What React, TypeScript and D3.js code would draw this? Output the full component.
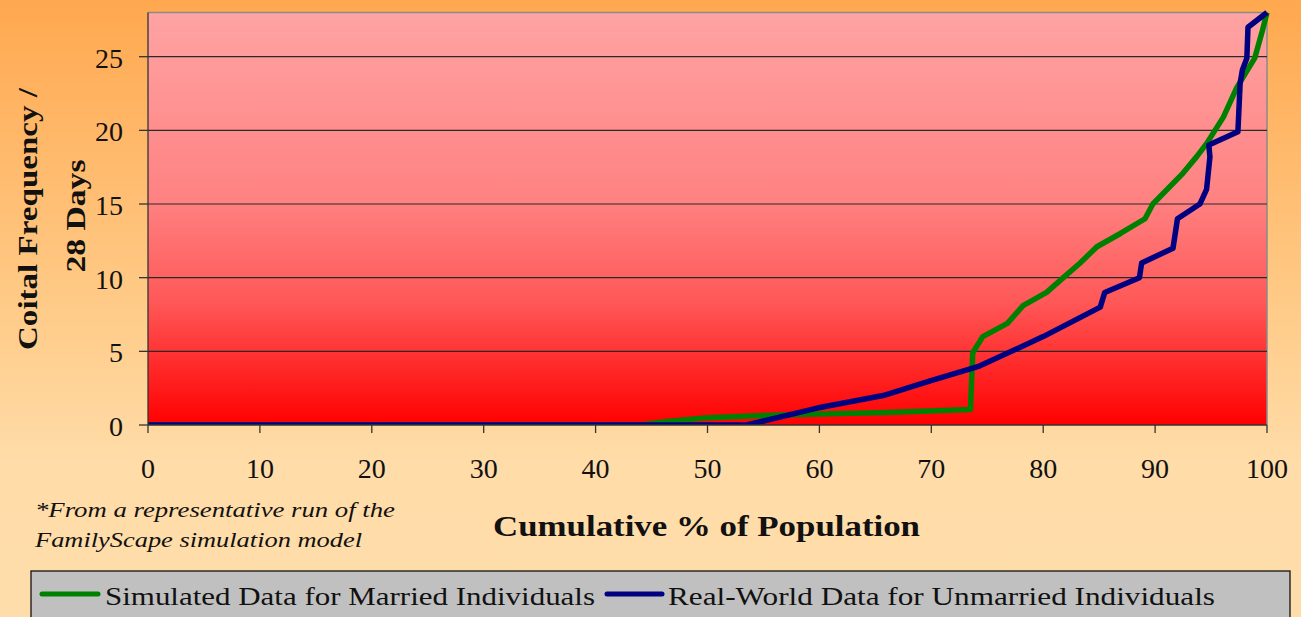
import React from "react";
import * as d3 from "d3";

// Cumulative distribution of coital frequency per 28 days
const xTicks = [0, 10, 20, 30, 40, 50, 60, 70, 80, 90, 100];
const yTicks = [0, 5, 10, 15, 20, 25];

const simulatedPct = [0, 44, 46, 50, 55, 60, 66, 73.5, 73.7, 74.6, 76.8, 78.2, 80.3, 81.8, 83.3, 84.8, 86.9, 89.1, 89.8, 92.5, 93.7, 94.6, 96.1, 97.3, 98.9, 99.6, 100];
const simulatedFreq = [0, 0, 0.2, 0.5, 0.65, 0.75, 0.85, 1.05, 4.9, 6.0, 6.9, 8.1, 9.0, 10.0, 11.0, 12.1, 13.0, 14.0, 15.0, 17.1, 18.2, 19.1, 20.9, 22.9, 24.9, 26.8, 28];

const realPct = [0, 53.5, 59.8, 65.7, 69.9, 74.3, 80.0, 85.1, 85.5, 88.6, 88.8, 91.6, 92.0, 94.0, 94.6, 94.9, 94.8, 97.4, 97.6, 97.8, 98.2, 98.3, 100];
const realFreq = [0, 0, 1.15, 2.0, 3.0, 4.0, 6.0, 8.0, 9.0, 10.0, 11.0, 12.0, 14.0, 15.0, 16.0, 18.2, 19.0, 19.9, 23.2, 24.1, 24.9, 27.0, 28];

const seriesNames = ["Simulated Data for Married Individuals", "Real-World Data for Unmarried Individuals"];
const seriesColors = ["#008000", "#000080"];

const W = 1301;
const H = 617;
const plot = { left: 148, right: 1267, top: 12.5, bottom: 425 };
const serif = "Liberation Serif, Tinos, Times New Roman, serif";

export default function App() {
  const x = d3.scaleLinear().domain([0, 100]).range([plot.left, plot.right]);
  const y = d3.scaleLinear().domain([0, 28]).range([plot.bottom, plot.top]);

  const line = d3
    .line<[number, number]>()
    .x((d) => x(d[0]))
    .y((d) => y(d[1]));

  const simulated = simulatedPct.map((p, i) => [p, simulatedFreq[i]] as [number, number]);
  const real = realPct.map((p, i) => [p, realFreq[i]] as [number, number]);

  const txt = { fontFamily: serif };

  return (
    <svg
      width={W}
      height={H}
      style={{ position: "absolute", left: 0, top: 0, display: "block", fontFamily: serif }}
    >
      <defs>
        <linearGradient id="bgGrad" x1="0" y1="0" x2="0" y2="1">
          <stop offset="0" stopColor="#FFA84F" />
          <stop offset="0.5" stopColor="#FFCB88" />
          <stop offset="0.75" stopColor="#FFDCA8" />
          <stop offset="1" stopColor="#FFDDAA" />
        </linearGradient>
        <linearGradient id="plotGrad" x1="0" y1="0" x2="0" y2="1">
          <stop offset="0" stopColor="#FFA3A3" />
          <stop offset="0.45" stopColor="#FF8282" />
          <stop offset="0.7" stopColor="#FF5858" />
          <stop offset="1" stopColor="#FF0000" />
        </linearGradient>
        <clipPath id="plotClip">
          <rect x={plot.left} y={0} width={W - plot.left} height={plot.bottom} />
        </clipPath>
      </defs>

      <rect x={0} y={0} width={W} height={H} fill="url(#bgGrad)" />

      {/* plot area */}
      <rect
        x={plot.left}
        y={plot.top}
        width={plot.right - plot.left}
        height={plot.bottom - plot.top}
        fill="url(#plotGrad)"
      />
      <path
        d={`M${plot.left},${plot.top}H${plot.right}V${plot.bottom}`}
        fill="none"
        stroke="#8a8a8a"
        strokeWidth={1.5}
      />

      {/* gridlines */}
      {yTicks
        .filter((t) => t > 0)
        .map((t) => (
          <line
            key={"g" + t}
            x1={plot.left}
            x2={plot.right}
            y1={y(t)}
            y2={y(t)}
            stroke="#2a2a2a"
            strokeWidth={1.2}
          />
        ))}

      {/* series */}
      <g clipPath="url(#plotClip)" fill="none" strokeWidth={5.5} strokeLinejoin="round">
        <path d={line(simulated) ?? ""} stroke={seriesColors[0]} />
        <path d={line(real) ?? ""} stroke={seriesColors[1]} />
      </g>

      {/* axes */}
      <line x1={plot.left} x2={plot.left} y1={plot.top} y2={plot.bottom} stroke="#333" strokeWidth={1.3} />
      <line x1={plot.left} x2={plot.right} y1={plot.bottom} y2={plot.bottom} stroke="#333" strokeWidth={1.3} />
      {yTicks.map((t) => (
        <g key={"y" + t}>
          <line x1={plot.left - 9} x2={plot.left} y1={y(t)} y2={y(t)} stroke="#333" strokeWidth={1.3} />
          <text x={123} y={y(t) + 11} textAnchor="end" fontSize={28} fill="#111" style={txt}>
            {t}
          </text>
        </g>
      ))}
      {xTicks.map((t) => (
        <g key={"x" + t}>
          <line x1={x(t)} x2={x(t)} y1={plot.bottom} y2={plot.bottom + 8} stroke="#333" strokeWidth={1.3} />
          <text x={x(t)} y={478} textAnchor="middle" fontSize={28} fill="#111" style={txt}>
            {t}
          </text>
        </g>
      ))}

      {/* axis titles */}
      <g transform="translate(37,219) rotate(-90)">
        <text textAnchor="middle" fontSize={28} fontWeight="bold" fill="#111" style={txt} textLength={262} lengthAdjust="spacingAndGlyphs">
          Coital Frequency /
        </text>
      </g>
      <g transform="translate(85,216) rotate(-90)">
        <text textAnchor="middle" fontSize={28} fontWeight="bold" fill="#111" style={txt} textLength={113} lengthAdjust="spacingAndGlyphs">
          28 Days
        </text>
      </g>
      <text x={706.5} y={536} textAnchor="middle" fontSize={30} fontWeight="bold" fill="#111" style={txt} textLength={427} lengthAdjust="spacingAndGlyphs">
        Cumulative % of Population
      </text>

      {/* footnote */}
      <g fontStyle="italic" fontSize={21} fill="#111">
        <text x={35} y={517} style={txt} textLength={360} lengthAdjust="spacingAndGlyphs">
          *From a representative run of the
        </text>
        <text x={35} y={547} style={txt} textLength={327} lengthAdjust="spacingAndGlyphs">
          FamilyScape simulation model
        </text>
      </g>

      {/* legend */}
      <rect x={31} y={571} width={1259} height={60} fill="#C0C0C0" stroke="#111" strokeWidth={1.3} />
      <line x1={42} x2={98} y1={594} y2={594} stroke={seriesColors[0]} strokeWidth={5} strokeLinecap="round" />
      <text x={105} y={604.5} fontSize={25} fill="#111" style={txt} textLength={490} lengthAdjust="spacingAndGlyphs">
        {seriesNames[0]}
      </text>
      <line x1={607} x2={662} y1={594} y2={594} stroke={seriesColors[1]} strokeWidth={5} strokeLinecap="round" />
      <text x={668} y={604.5} fontSize={25} fill="#111" style={txt} textLength={547} lengthAdjust="spacingAndGlyphs">
        {seriesNames[1]}
      </text>
    </svg>
  );
}
